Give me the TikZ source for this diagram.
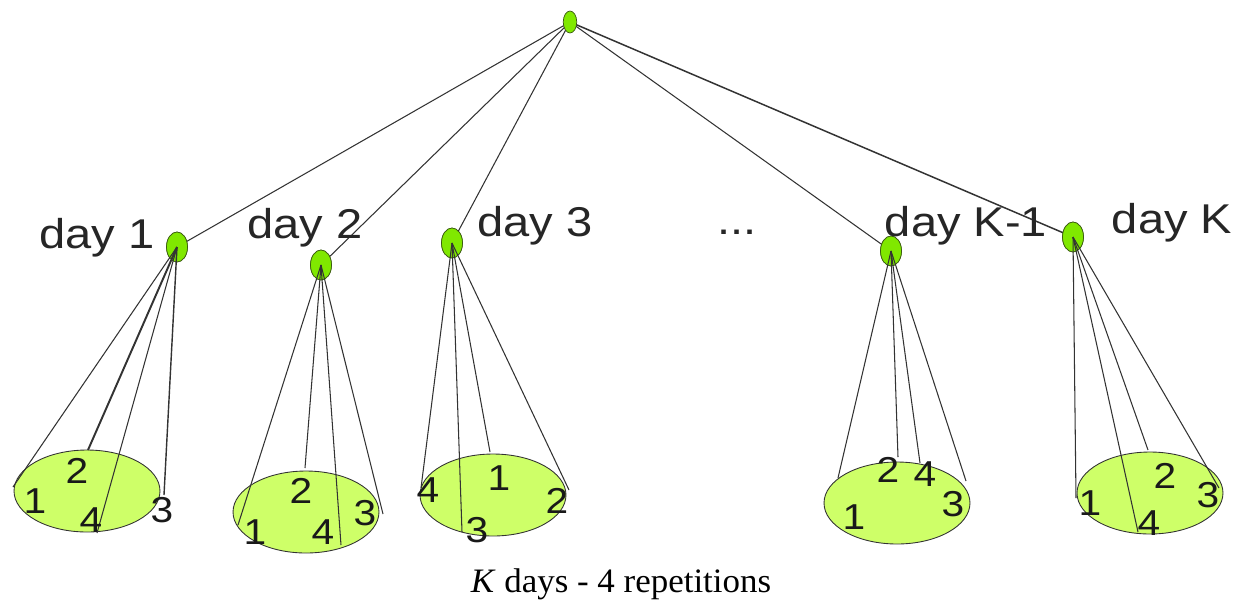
\documentclass[tikz,border=0pt]{standalone}
\usepackage{fontspec}
\setmainfont{Liberation Serif}
\newfontfamily\labfont[FakeStretch=1.13]{Liberation Sans}
\newfontfamily\capfont[FakeStretch=1.02]{Liberation Serif}
\usetikzlibrary{shapes.geometric}
\definecolor{nodegreen}{RGB}{128,232,0}
\definecolor{bowlgreen}{RGB}{206,255,104}
\definecolor{rimgreen}{RGB}{60,90,20}

\begin{document}
\begin{tikzpicture}[x=0.02cm,y=-0.02cm,
  every node/.style={inner sep=0pt, outer sep=0pt},
  vertex/.style={ellipse, draw=rimgreen, line width=0.4pt, fill=nodegreen,
                 minimum width=0.42cm, minimum height=0.6cm},
  rootvertex/.style={vertex, minimum width=0.27cm, minimum height=0.44cm},
  bowl/.style={ellipse, draw=black!80, line width=0.5pt, fill=bowlgreen,
               minimum width=2.92cm, minimum height=1.64cm},
  link/.style={draw=black!80, line width=0.6pt},
  daylabel/.style={font=\labfont\fontsize{23.7}{26}\selectfont, anchor=base, text=black!85},
  num/.style={font=\labfont\fontsize{20.5}{22}\selectfont, text=black!90}
]
\useasboundingbox (0,0) rectangle (1245,603);

% ---- nodes of the tree
\node[rootvertex] (root) at (570,22) {};
\node[vertex] (d1) at (177,247) {};
\node[vertex] (d2) at (321,265) {};
\node[vertex] (d3) at (452,243) {};
\node[vertex] (d4) at (891,251) {};
\node[vertex] (d5) at (1073,237) {};

% ---- branches from the root to every day
\draw[link] (root) -- (d1);
\draw[link] (root) -- (d2);
\draw[link] (root) -- (d3);
\draw[link] (root) -- (d4);
\draw[link, line width=0.85pt] (root) -- (d5);

% ---- the repetition sets of each day
\node[bowl] (s1) at (87,491) {};
\node[bowl] (s2) at (306,512) {};
\node[bowl] (s3) at (493,495) {};
\node[bowl] (s4) at (897,503) {};
\node[bowl] (s5) at (1150,493) {};

% redraw day nodes above the branches
\node[vertex] at (d1) {};
\node[vertex] at (d2) {};
\node[vertex] at (d3) {};
\node[vertex] at (d4) {};
\node[vertex] at (d5) {};

% ---- ends of the cone lines
\coordinate (a1) at (13,487);   \coordinate (a2) at (88,450);
\coordinate (a4) at (97,533);   \coordinate (a3) at (164,495);
\coordinate (b1) at (238,525);  \coordinate (b2) at (305,468);
\coordinate (b4) at (341,545);  \coordinate (b3) at (383,514);
\coordinate (c4) at (421,488);  \coordinate (c3) at (462,532);
\coordinate (c1) at (490,452);  \coordinate (c2) at (569,490);
\coordinate (e1) at (838,478);  \coordinate (e2) at (898,457);
\coordinate (e4) at (920,463);  \coordinate (e3) at (966,481);
\coordinate (f1) at (1076,498); \coordinate (f4) at (1138,532);
\coordinate (f2) at (1148,450); \coordinate (f3) at (1219,488);

% ---- cone lines
\draw[link] (d1.center) -- (a1);
\draw[link, line width=1.1pt] (d1.center) -- (a2);
\draw[link] (d1.center) -- (a4);
\draw[link, line width=0.8pt] (d1.center) -- (a3);

\draw[link] (d2.center) -- (b1);
\draw[link] (d2.center) -- (b2);
\draw[link] (d2.center) -- (b4);
\draw[link] (d2.center) -- (b3);

\draw[link] (d3.center) -- (c4);
\draw[link] (d3.center) -- (c3);
\draw[link] (d3.center) -- (c1);
\draw[link] (d3.center) -- (c2);

\draw[link] (d4.center) -- (e1);
\draw[link] (d4.center) -- (e2);
\draw[link] (d4.center) -- (e4);
\draw[link] (d4.center) -- (e3);

\draw[link] (d5.center) -- (f1);
\draw[link] (d5.center) -- (f4);
\draw[link] (d5.center) -- (f2);
\draw[link] (d5.center) -- (f3);

% ---- repetition numbers
\node[num] (n11) at (35,501) {1};
\node[num] (n12) at (77,471) {2};
\node[num] (n14) at (91,520) {4};
\node[num] (n13) at (162,510) {3};

\node[num] (n22) at (301,491) {2};
\node[num] (n21) at (255,532) {1};
\node[num] (n24) at (323,532) {4};
\node[num] (n23) at (365,513) {3};

\node[num] (n34) at (428,490) {4};
\node[num] (n31) at (499,478) {1};
\node[num] (n32) at (557,501) {2};
\node[num] (n33) at (477,530) {3};

\node[num] (n42) at (888,470) {2};
\node[num] (n44) at (925,474) {4};
\node[num] (n43) at (953,504) {3};
\node[num] (n41) at (854,517) {1};

\node[num] (n51) at (1090,503) {1};
\node[num] (n52) at (1165,476) {2};
\node[num] (n53) at (1208,495) {3};
\node[num] (n54) at (1149,523) {4};

% ---- day labels
\node[daylabel] (l1) at (97,248) {day 1};
\node[daylabel] (l2) at (305,238) {day 2};
\node[daylabel] (l3) at (535,236) {day 3};
\node[daylabel] (ldots) at (737,234) {...};
\node[daylabel] (l4) at (966,236) {day K-1};
\node[daylabel] (l5) at (1172,233) {day K};

% ---- caption
\node[font=\capfont\fontsize{19.5}{22}\selectfont, anchor=base] (cap) at (621,592)
  {\textit{K} days - 4 repetitions};
\end{tikzpicture}
\end{document}
